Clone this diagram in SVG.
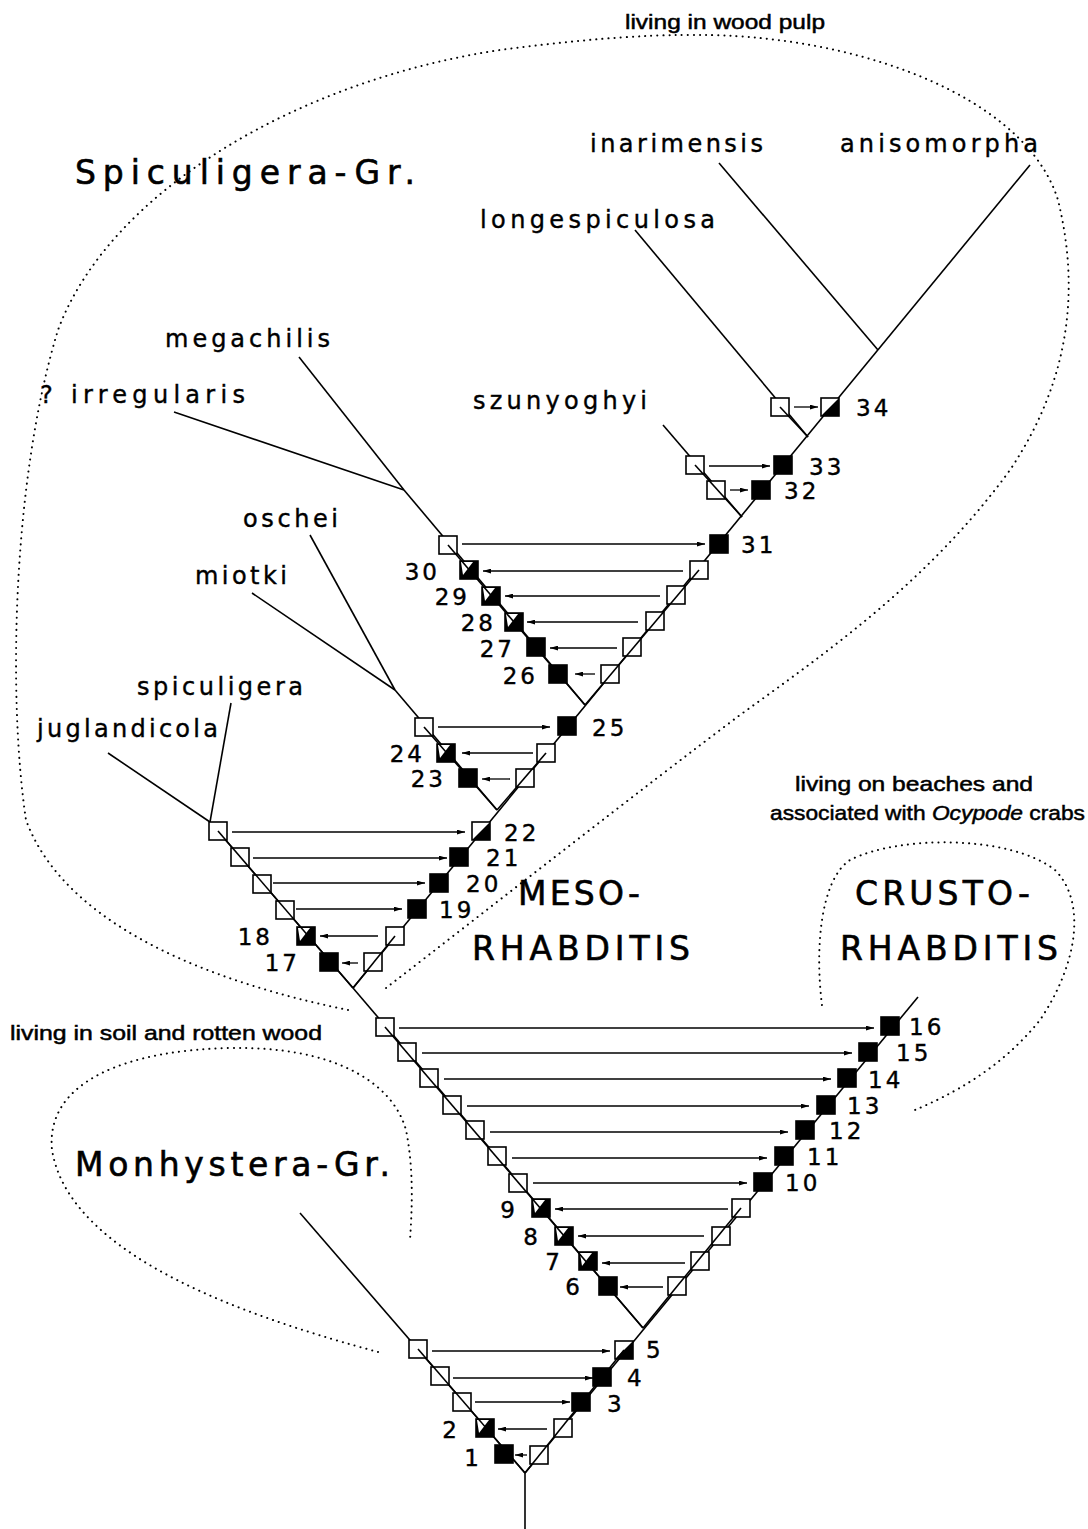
<svg xmlns="http://www.w3.org/2000/svg" width="1088" height="1529" viewBox="0 0 1088 1529">
<style>
.br{stroke:#000;stroke-width:1.6;fill:none}
.ar{stroke:#000;stroke-width:1.3;fill:none;marker-end:url(#ah)}
.dot{stroke:#000;stroke-width:2;fill:none;stroke-dasharray:0.1 6;stroke-linecap:round}
.o{fill:#fff;stroke:#000;stroke-width:1.6}
.b{fill:#000;stroke:#000;stroke-width:1.6}
.sp{font-family:"DejaVu Sans","Liberation Sans",sans-serif;font-size:24px;fill:#000;stroke:#000;stroke-width:0.4}
.big{font-family:"DejaVu Sans","Liberation Sans",sans-serif;font-size:33px;fill:#000;stroke:#000;stroke-width:0.6}
.num{font-family:"DejaVu Sans","Liberation Sans",sans-serif;font-size:23px;letter-spacing:3px;fill:#000;stroke:#000;stroke-width:0.4}
.hv{font-family:"Liberation Sans",Arial,sans-serif;font-size:21px;fill:#000;stroke:#000;stroke-width:0.5}
</style>
<defs>
<marker id="ah" viewBox="0 0 10 6" refX="10" refY="3" markerWidth="8" markerHeight="5" markerUnits="userSpaceOnUse" orient="auto">
<path d="M0,0 L10,3 L0,6 z" fill="#000"/>
</marker>
<rect id="sq" x="-9" y="-9" width="18" height="18"/>
<g id="hr"><rect x="-9" y="-9" width="18" height="18" class="o"/><path d="M9,-9 L9,9 L-9,9 z" fill="#000"/></g>
<g id="hl"><rect x="-9" y="-9" width="18" height="18" class="b"/><path d="M-8,-8 L4,-8 L-6,5 z" fill="#fff"/></g>
</defs>
<rect width="1088" height="1529" fill="#fff"/>

<g id="regions">
<path class="dot" d="M348,1010 C250,990 70,940 26,820 C8,700 12,480 58,330 C110,190 300,80 500,50 C620,34 700,32 760,38 C900,52 1030,110 1058,200 C1080,290 1070,380 1010,470 C930,580 830,650 740,715 C640,790 500,900 386,988"/>
<path class="dot" d="M822,1005 C815,950 820,880 850,860 C900,835 1010,835 1055,870 C1085,900 1080,960 1040,1020 C1000,1070 950,1095 915,1110"/>
<path class="dot" d="M378,1352 C260,1320 70,1260 52,1150 C45,1080 130,1050 230,1048 C330,1046 392,1080 406,1130 C414,1170 412,1210 410,1240"/>
</g>

<g id="connectors">
<line class="br" x1="525" y1="1529" x2="525" y2="1473"/>
<line class="br" x1="525" y1="1473" x2="300" y2="1213"/>
<line class="br" x1="525" y1="1473" x2="918" y2="997"/>
<line class="br" x1="643" y1="1328" x2="353" y2="988"/>
<line class="br" x1="353" y1="988" x2="210" y2="822"/>
<line class="br" x1="210" y1="822" x2="108" y2="753"/>
<line class="br" x1="210" y1="822" x2="231" y2="703"/>
<line class="br" x1="353" y1="988" x2="1030" y2="165"/>
<line class="br" x1="497" y1="810" x2="395" y2="690"/>
<line class="br" x1="395" y1="690" x2="310" y2="535"/>
<line class="br" x1="395" y1="690" x2="252" y2="593"/>
<line class="br" x1="585" y1="705" x2="404" y2="490"/>
<line class="br" x1="404" y1="490" x2="299" y2="357"/>
<line class="br" x1="404" y1="490" x2="174" y2="412"/>
<line class="br" x1="742" y1="517" x2="663" y2="425"/>
<line class="br" x1="808" y1="437" x2="635" y2="230"/>
<line class="br" x1="878" y1="350" x2="719" y2="163"/>

<line class="ar" x1="527" y1="1455" x2="515" y2="1455"/>
<line class="ar" x1="547" y1="1429" x2="498" y2="1429"/>
<line class="ar" x1="475" y1="1402" x2="570" y2="1402"/>
<line class="ar" x1="453" y1="1378" x2="593" y2="1378"/>
<line class="ar" x1="432" y1="1351" x2="610" y2="1351"/>
<line class="ar" x1="663" y1="1287" x2="620" y2="1287"/>
<line class="ar" x1="685" y1="1263" x2="602" y2="1263"/>
<line class="ar" x1="704" y1="1236" x2="578" y2="1236"/>
<line class="ar" x1="728" y1="1209" x2="555" y2="1209"/>
<line class="ar" x1="533" y1="1183" x2="747" y2="1183"/>
<line class="ar" x1="512" y1="1158" x2="767" y2="1158"/>
<line class="ar" x1="490" y1="1132" x2="788" y2="1132"/>
<line class="ar" x1="467" y1="1106" x2="809" y2="1106"/>
<line class="ar" x1="444" y1="1079" x2="831" y2="1079"/>
<line class="ar" x1="422" y1="1053" x2="852" y2="1053"/>
<line class="ar" x1="399" y1="1028" x2="874" y2="1028"/>
<line class="ar" x1="358" y1="963" x2="342" y2="963"/>
<line class="ar" x1="378" y1="936" x2="320" y2="936"/>
<line class="ar" x1="296" y1="909" x2="402" y2="909"/>
<line class="ar" x1="273" y1="883" x2="425" y2="883"/>
<line class="ar" x1="253" y1="858" x2="447" y2="858"/>
<line class="ar" x1="232" y1="832" x2="465" y2="832"/>
<line class="ar" x1="510" y1="779" x2="482" y2="779"/>
<line class="ar" x1="533" y1="753" x2="462" y2="753"/>
<line class="ar" x1="438" y1="727" x2="550" y2="727"/>
<line class="ar" x1="595" y1="674" x2="575" y2="674"/>
<line class="ar" x1="617" y1="648" x2="550" y2="648"/>
<line class="ar" x1="638" y1="622" x2="527" y2="622"/>
<line class="ar" x1="660" y1="596" x2="505" y2="596"/>
<line class="ar" x1="683" y1="571" x2="483" y2="571"/>
<line class="ar" x1="462" y1="544" x2="705" y2="544"/>
<line class="ar" x1="730" y1="490" x2="748" y2="490"/>
<line class="ar" x1="709" y1="466" x2="770" y2="466"/>
<line class="ar" x1="794" y1="407" x2="818" y2="407"/>
</g>

<g id="nodes">
<g id="n1"><use href="#sq" class="b" x="504" y="1454"/><text class="num" x="482" y="1466" text-anchor="end">1</text></g>
<g id="n1r"><use href="#sq" class="o" x="539" y="1455"/></g>
<g id="n2"><use href="#hl" x="485" y="1428"/><text class="num" x="460" y="1438" text-anchor="end">2</text></g>
<g id="n2r"><use href="#sq" class="o" x="563" y="1428"/></g>
<g id="n3l"><use href="#sq" class="o" x="462" y="1402"/></g>
<g id="n3"><use href="#sq" class="b" x="581" y="1402"/><text class="num" x="607" y="1412">3</text></g>
<g id="n4l"><use href="#sq" class="o" x="440" y="1376"/></g>
<g id="n4"><use href="#sq" class="b" x="602" y="1377"/><text class="num" x="627" y="1386">4</text></g>
<g id="n5l"><use href="#sq" class="o" x="418" y="1349"/></g>
<g id="n5"><use href="#hr" x="624" y="1350"/><text class="num" x="646" y="1358">5</text></g>

<g id="n6"><use href="#sq" class="b" x="608" y="1286"/><text class="num" x="583" y="1295" text-anchor="end">6</text></g>
<g id="n6r"><use href="#sq" class="o" x="677" y="1286"/></g>
<g id="n7"><use href="#hl" x="588" y="1261"/><text class="num" x="563" y="1270" text-anchor="end">7</text></g>
<g id="n7r"><use href="#sq" class="o" x="700" y="1261"/></g>
<g id="n8"><use href="#hl" x="564" y="1236"/><text class="num" x="541" y="1245" text-anchor="end">8</text></g>
<g id="n8r"><use href="#sq" class="o" x="721" y="1236"/></g>
<g id="n9"><use href="#hl" x="541" y="1208"/><text class="num" x="518" y="1218" text-anchor="end">9</text></g>
<g id="n9r"><use href="#sq" class="o" x="741" y="1208"/></g>
<g id="n10l"><use href="#sq" class="o" x="518" y="1183"/></g>
<g id="n10"><use href="#sq" class="b" x="763" y="1182"/><text class="num" x="785" y="1191">10</text></g>
<g id="n11l"><use href="#sq" class="o" x="497" y="1156"/></g>
<g id="n11"><use href="#sq" class="b" x="784" y="1156"/><text class="num" x="807" y="1165">11</text></g>
<g id="n12l"><use href="#sq" class="o" x="475" y="1130"/></g>
<g id="n12"><use href="#sq" class="b" x="805" y="1130"/><text class="num" x="829" y="1139">12</text></g>
<g id="n13l"><use href="#sq" class="o" x="452" y="1105"/></g>
<g id="n13"><use href="#sq" class="b" x="826" y="1105"/><text class="num" x="847" y="1114">13</text></g>
<g id="n14l"><use href="#sq" class="o" x="429" y="1078"/></g>
<g id="n14"><use href="#sq" class="b" x="847" y="1078"/><text class="num" x="868" y="1088">14</text></g>
<g id="n15l"><use href="#sq" class="o" x="407" y="1052"/></g>
<g id="n15"><use href="#sq" class="b" x="868" y="1052"/><text class="num" x="896" y="1061">15</text></g>
<g id="n16l"><use href="#sq" class="o" x="385" y="1027"/></g>
<g id="n16"><use href="#sq" class="b" x="890" y="1026"/><text class="num" x="909" y="1035">16</text></g>

<g id="n17"><use href="#sq" class="b" x="329" y="962"/><text class="num" x="300" y="971" text-anchor="end">17</text></g>
<g id="n17r"><use href="#sq" class="o" x="373" y="962"/></g>
<g id="n18"><use href="#hl" x="306" y="936"/><text class="num" x="273" y="945" text-anchor="end">18</text></g>
<g id="n18r"><use href="#sq" class="o" x="395" y="936"/></g>
<g id="n19l"><use href="#sq" class="o" x="285" y="910"/></g>
<g id="n19"><use href="#sq" class="b" x="417" y="909"/><text class="num" x="439" y="918">19</text></g>
<g id="n20l"><use href="#sq" class="o" x="262" y="884"/></g>
<g id="n20"><use href="#sq" class="b" x="439" y="883"/><text class="num" x="466" y="892">20</text></g>
<g id="n21l"><use href="#sq" class="o" x="240" y="857"/></g>
<g id="n21"><use href="#sq" class="b" x="459" y="857"/><text class="num" x="486" y="866">21</text></g>
<g id="n22l"><use href="#sq" class="o" x="218" y="831"/></g>
<g id="n22"><use href="#hr" x="481" y="831"/><text class="num" x="504" y="841">22</text></g>

<g id="n23"><use href="#sq" class="b" x="468" y="778"/><text class="num" x="446" y="787" text-anchor="end">23</text></g>
<g id="n23r"><use href="#sq" class="o" x="525" y="778"/></g>
<g id="n24"><use href="#hl" x="446" y="753"/><text class="num" x="425" y="762" text-anchor="end">24</text></g>
<g id="n24r"><use href="#sq" class="o" x="546" y="753"/></g>
<g id="n25l"><use href="#sq" class="o" x="424" y="727"/></g>
<g id="n25"><use href="#sq" class="b" x="567" y="726"/><text class="num" x="592" y="736">25</text></g>

<g id="n26"><use href="#sq" class="b" x="558" y="674"/><text class="num" x="538" y="684" text-anchor="end">26</text></g>
<g id="n26r"><use href="#sq" class="o" x="610" y="674"/></g>
<g id="n27"><use href="#sq" class="b" x="536" y="647"/><text class="num" x="515" y="657" text-anchor="end">27</text></g>
<g id="n27r"><use href="#sq" class="o" x="632" y="647"/></g>
<g id="n28"><use href="#hl" x="514" y="622"/><text class="num" x="496" y="631" text-anchor="end">28</text></g>
<g id="n28r"><use href="#sq" class="o" x="655" y="621"/></g>
<g id="n29"><use href="#hl" x="491" y="596"/><text class="num" x="470" y="605" text-anchor="end">29</text></g>
<g id="n29r"><use href="#sq" class="o" x="676" y="595"/></g>
<g id="n30"><use href="#hl" x="469" y="570"/><text class="num" x="440" y="580" text-anchor="end">30</text></g>
<g id="n30r"><use href="#sq" class="o" x="699" y="570"/></g>
<g id="n31l"><use href="#sq" class="o" x="448" y="545"/></g>
<g id="n31"><use href="#sq" class="b" x="719" y="544"/><text class="num" x="741" y="553">31</text></g>

<g id="n32l"><use href="#sq" class="o" x="716" y="490"/></g>
<g id="n32"><use href="#sq" class="b" x="761" y="490"/><text class="num" x="784" y="499">32</text></g>
<g id="n33l"><use href="#sq" class="o" x="695" y="465"/></g>
<g id="n33"><use href="#sq" class="b" x="783" y="465"/><text class="num" x="809" y="475">33</text></g>
<g id="n34l"><use href="#sq" class="o" x="780" y="407"/></g>
<g id="n34"><use href="#hr" x="830" y="407"/><text class="num" x="856" y="416">34</text></g>
</g>

<g id="branchlines-over">
<line class="br" x1="525" y1="1473" x2="418" y2="1349"/>
<line class="br" x1="525" y1="1473" x2="624" y2="1350"/>
<line class="br" x1="643" y1="1328" x2="385" y2="1027"/>
<line class="br" x1="643" y1="1328" x2="741" y2="1208"/>
<line class="br" x1="353" y1="988" x2="218" y2="831"/>
<line class="br" x1="353" y1="988" x2="395" y2="936"/>
<line class="br" x1="497" y1="810" x2="424" y2="727"/>
<line class="br" x1="497" y1="810" x2="546" y2="753"/>
<line class="br" x1="585" y1="705" x2="448" y2="545"/>
<line class="br" x1="585" y1="705" x2="699" y2="570"/>
<line class="br" x1="742" y1="517" x2="695" y2="465"/>
<line class="br" x1="808" y1="437" x2="780" y2="407"/>
</g>

<g id="labels">
<text class="hv" x="625" y="29" textLength="200" lengthAdjust="spacingAndGlyphs">living in wood pulp</text>
<text class="big" x="75" y="184" textLength="340" lengthAdjust="spacing">Spiculigera-Gr.</text>
<text class="sp" x="590" y="152" textLength="173" lengthAdjust="spacing">inarimensis</text>
<text class="sp" x="840" y="152" textLength="198" lengthAdjust="spacing">anisomorpha</text>
<text class="sp" x="480" y="228" textLength="235" lengthAdjust="spacing">longespiculosa</text>
<text class="sp" x="165" y="347" textLength="165" lengthAdjust="spacing">megachilis</text>
<text class="sp" x="40" y="403" textLength="205" lengthAdjust="spacing">? irregularis</text>
<text class="sp" x="473" y="409" textLength="174" lengthAdjust="spacing">szunyoghyi</text>
<text class="sp" x="243" y="527" textLength="95" lengthAdjust="spacing">oschei</text>
<text class="sp" x="195" y="584" textLength="92" lengthAdjust="spacing">miotki</text>
<text class="sp" x="137" y="695" textLength="166" lengthAdjust="spacing">spiculigera</text>
<text class="sp" x="37" y="737" textLength="181" lengthAdjust="spacing">juglandicola</text>
<text class="hv" x="795" y="791" textLength="238" lengthAdjust="spacingAndGlyphs">living on beaches and</text>
<text class="hv" x="770" y="820" textLength="315" lengthAdjust="spacingAndGlyphs">associated with <tspan font-style="italic">Ocypode</tspan> crabs</text>
<text class="big" x="518" y="905" textLength="122" lengthAdjust="spacing">MESO-</text>
<text class="big" x="472" y="960" textLength="218" lengthAdjust="spacing">RHABDITIS</text>
<text class="big" x="855" y="905" textLength="175" lengthAdjust="spacing">CRUSTO-</text>
<text class="big" x="840" y="960" textLength="218" lengthAdjust="spacing">RHABDITIS</text>
<text class="hv" x="10" y="1040" textLength="312" lengthAdjust="spacingAndGlyphs">living in soil and rotten wood</text>
<text class="big" x="75" y="1176" textLength="315" lengthAdjust="spacing">Monhystera-Gr.</text>
</g>
</svg>
